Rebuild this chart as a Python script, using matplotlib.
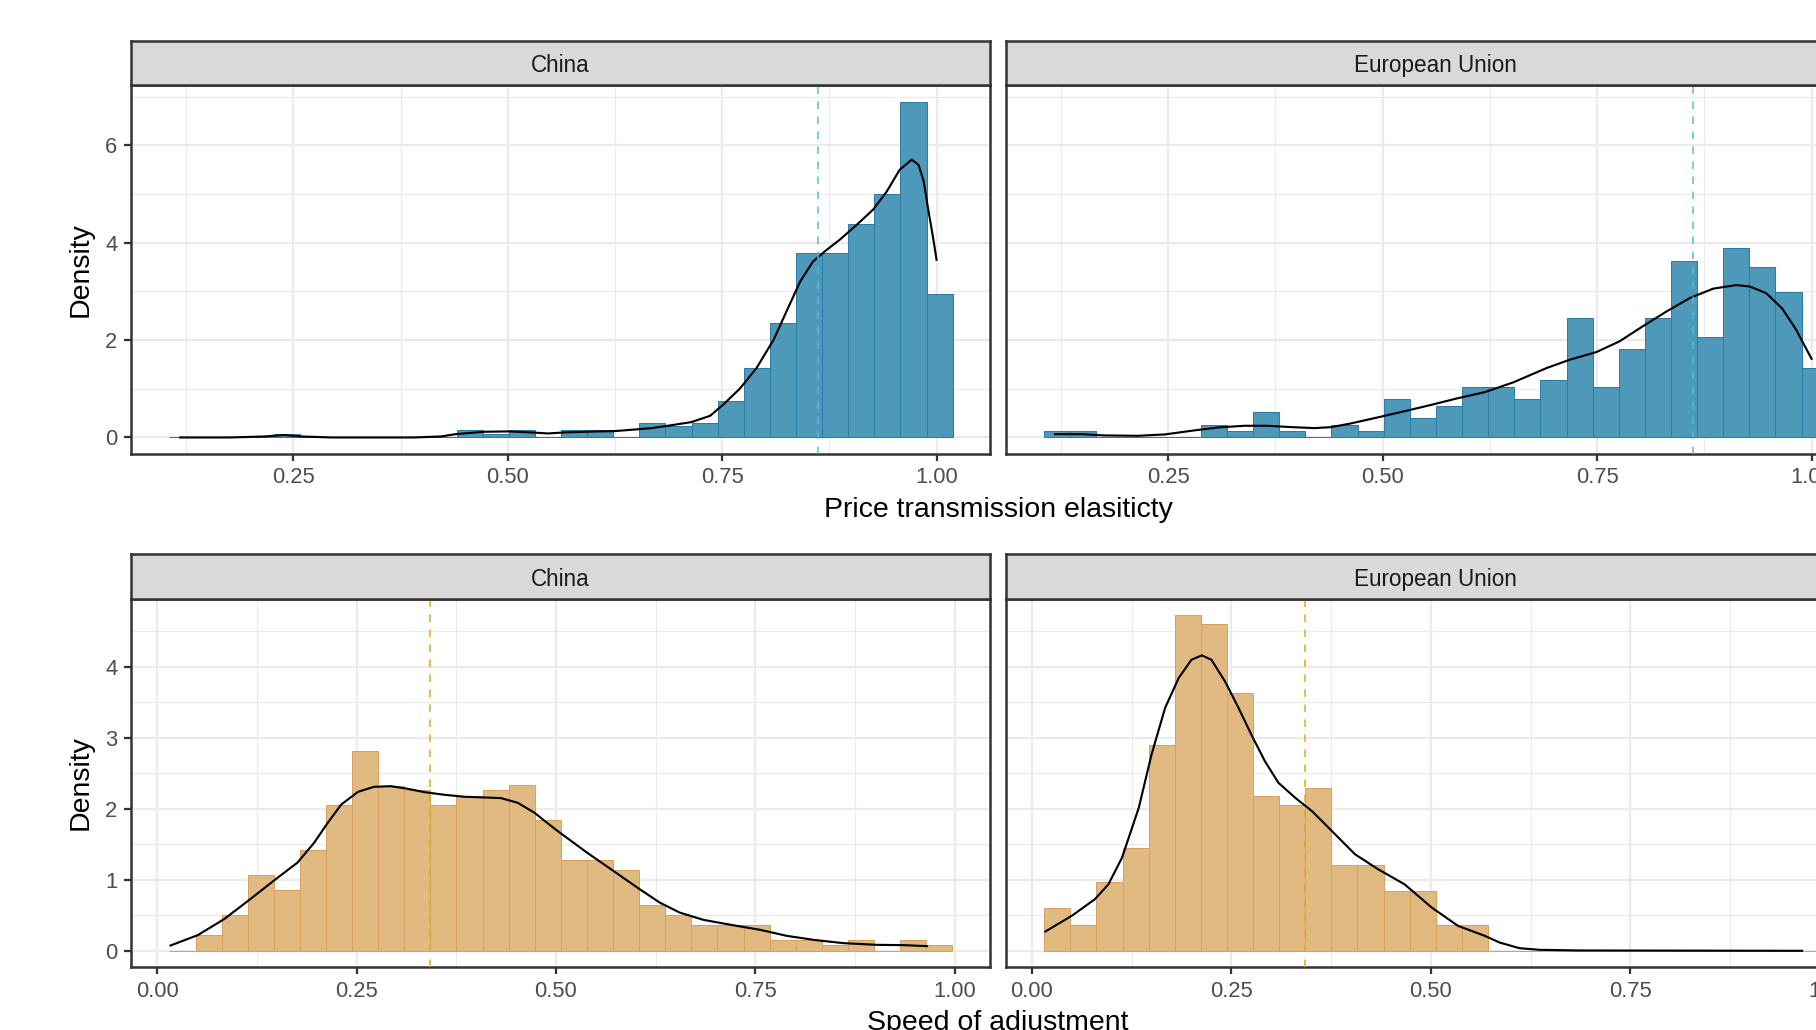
import numpy as np
import matplotlib
matplotlib.use("Agg")
import matplotlib.pyplot as plt

plt.rcParams['font.family'] = ['Liberation Sans', 'DejaVu Sans']

# ---- data ----
regions = ["China", "European Union"]

# price transmission elasticity histograms (density per bin)
pte_start = 0.1053
pte_binwidth = 0.03045
china_pte = [0, 0, 0, 0, 0.08, 0, 0, 0, 0, 0, 0, 0.15, 0.074, 0.15, 0, 0.15,
             0.15, 0, 0.295, 0.226, 0.295, 0.753, 1.432, 2.356, 3.795, 3.795,
             4.39, 5.007, 6.897, 2.952]
eu_pte = [0.13, 0.13, 0, 0, 0, 0, 0.26, 0.13, 0.52, 0.13, 0, 0.26, 0.13, 0.78,
          0.39, 0.65, 1.04, 1.04, 0.78, 1.17, 2.46, 1.04, 1.81, 2.46, 3.63,
          2.07, 3.89, 3.50, 2.98, 1.43]

# speed of adjustment histograms (density per bin)
soa_start = 0.0156
soa_binwidth = 0.0327
china_soa = [0, 0.22, 0.50, 1.063, 0.852, 1.414, 2.046, 2.818, 2.317, 2.257,
             2.046, 2.18, 2.257, 2.327, 1.835, 1.273, 1.273, 1.133, 0.64, 0.50,
             0.36, 0.36, 0.36, 0.15, 0.15, 0.08, 0.15, 0, 0.15, 0.08]
eu_soa = [0.609, 0.37, 0.974, 1.451, 2.898, 4.724, 4.597, 3.628, 2.182, 2.055,
          2.294, 1.213, 1.213, 0.847, 0.847, 0.37, 0.37, 0, 0, 0, 0, 0, 0, 0,
          0, 0, 0, 0, 0, 0]

# density curves
china_pte_kx = [0.118, 0.177, 0.216, 0.239, 0.259, 0.294, 0.391, 0.422, 0.440,
                0.473, 0.502, 0.527, 0.547, 0.566, 0.605, 0.624, 0.644, 0.667,
                0.684, 0.714, 0.736, 0.751, 0.771, 0.790, 0.810, 0.825, 0.841,
                0.856, 0.872, 0.887, 0.907, 0.926, 0.942, 0.957, 0.971, 0.979,
                0.985, 0.990, 0.996, 1.000]
china_pte_ky = [0.0, 0.0, 0.02, 0.05, 0.02, 0.0, 0.0, 0.02, 0.07, 0.117, 0.124,
                0.103, 0.082, 0.103, 0.124, 0.13, 0.157, 0.19, 0.233, 0.315,
                0.445, 0.671, 1.01, 1.425, 2.007, 2.59, 3.205, 3.616, 3.856,
                4.06, 4.37, 4.68, 5.055, 5.5, 5.705, 5.6, 5.26, 4.71, 4.096,
                3.65]
eu_pte_kx = [0.118, 0.149, 0.176, 0.215, 0.246, 0.277, 0.308, 0.339, 0.366,
             0.394, 0.421, 0.440, 0.463, 0.494, 0.526, 0.557, 0.588, 0.619,
             0.652, 0.691, 0.718, 0.749, 0.776, 0.803, 0.831, 0.858, 0.885,
             0.912, 0.928, 0.947, 0.966, 0.982, 1.000]
eu_pte_ky = [0.068, 0.068, 0.041, 0.034, 0.062, 0.137, 0.205, 0.24, 0.24,
             0.212, 0.192, 0.212, 0.288, 0.411, 0.541, 0.671, 0.808, 0.93,
             1.13, 1.425, 1.596, 1.753, 1.973, 2.281, 2.589, 2.863, 3.055,
             3.13, 3.10, 2.966, 2.644, 2.212, 1.616]
china_soa_kx = [0.017, 0.051, 0.084, 0.114, 0.147, 0.176, 0.197, 0.214, 0.231,
                0.252, 0.272, 0.293, 0.314, 0.335, 0.360, 0.385, 0.410, 0.431,
                0.452, 0.473, 0.494, 0.506, 0.539, 0.572, 0.605, 0.630, 0.655,
                0.685, 0.722, 0.756, 0.789, 0.823, 0.860, 0.902, 0.935, 0.965]
china_soa_ky = [0.075, 0.22, 0.445, 0.702, 0.993, 1.241, 1.522, 1.802, 2.06,
                2.238, 2.308, 2.317, 2.28, 2.233, 2.196, 2.168, 2.158, 2.149,
                2.083, 1.943, 1.756, 1.653, 1.381, 1.124, 0.866, 0.679, 0.538,
                0.435, 0.36, 0.295, 0.211, 0.154, 0.108, 0.084, 0.08, 0.066]
eu_soa_kx = [0.017, 0.050, 0.079, 0.096, 0.113, 0.134, 0.150, 0.167, 0.184,
             0.200, 0.213, 0.225, 0.242, 0.259, 0.276, 0.292, 0.309, 0.330,
             0.351, 0.376, 0.405, 0.434, 0.467, 0.501, 0.534, 0.5675, 0.586,
             0.611, 0.636, 0.686, 0.965]
eu_soa_ky = [0.272, 0.492, 0.726, 0.936, 1.311, 2.013, 2.762, 3.418, 3.839,
             4.096, 4.157, 4.096, 3.792, 3.418, 3.02, 2.669, 2.364, 2.154,
             1.966, 1.685, 1.358, 1.147, 0.936, 0.609, 0.351, 0.211, 0.117,
             0.037, 0.014, 0.005, 0.0]

pte_mean = 0.862
soa_mean = 0.342

pte_ticks = [0.25, 0.50, 0.75, 1.00]
soa_ticks = [0.00, 0.25, 0.50, 0.75, 1.00]

# ---- figure ----
W, H, DPI = 1816, 1030, 180
fig = plt.figure(figsize=(W / DPI, H / DPI), dpi=DPI)
fig.patch.set_facecolor('white')


def box(x0, y0, x1, y1):
    return [x0 / W, 1 - y1 / H, (x1 - x0) / W, (y1 - y0) / H]


def style_panel(ax, xlim, ylim, xticks, xminor, yticks, yminor, show_y):
    ax.set_xlim(*xlim)
    ax.set_ylim(*ylim)
    ax.set_xticks(xticks)
    ax.set_xticklabels([f"{t:.2f}" for t in xticks])
    ax.set_xticks(xminor, minor=True)
    ax.set_yticks(yticks)
    ax.set_yticklabels([str(t) for t in yticks])
    ax.set_yticks(yminor, minor=True)
    ax.grid(True, which='major', color='#EBEBEB', lw=0.9)
    ax.grid(True, which='minor', color='#EBEBEB', lw=0.45)
    ax.set_axisbelow(True)
    for s in ax.spines.values():
        s.set_color('#333333')
        s.set_linewidth(1.0)
    ax.tick_params(which='major', length=2.75, width=0.9, color='#333333',
                   labelcolor='#4D4D4D', labelsize=8.8, pad=2.6)
    ax.tick_params(which='minor', length=0)
    if not show_y:
        ax.tick_params(axis='y', which='major', length=0, labelleft=False)


def strip(rect, label):
    s = fig.add_axes(rect)
    s.set_facecolor('#D9D9D9')
    s.set_xticks([])
    s.set_yticks([])
    for sp in s.spines.values():
        sp.set_color('#333333')
        sp.set_linewidth(1.0)
    s.text(0.5, 0.44, label, ha='center', va='center', fontsize=9.0,
           color='#1A1A1A', transform=s.transAxes)


blue_fill, blue_edge = '#4E99BA', '#2A7BA5'
orange_fill, orange_edge = '#E1BA82', '#D9A15C'

cols = [(131, 990), (1005.8, 1865)]
rows = [dict(strip=(41, 85), panel=(85, 454), data=[china_pte, eu_pte],
             curves=[(china_pte_kx, china_pte_ky), (eu_pte_kx, eu_pte_ky)],
             start=pte_start, bw=pte_binwidth, fill=blue_fill, edge=blue_edge,
             vline=pte_mean, vcol='#56B9DD', xlim=(0.0606, 1.0623),
             ylim=(-0.34, 7.24), xticks=pte_ticks,
             xminor=[0.125, 0.375, 0.625, 0.875], yticks=[0, 2, 4, 6],
             yminor=[1, 3, 5, 7]),
        dict(strip=(554, 598.7), panel=(598.7, 967.3), data=[china_soa, eu_soa],
             curves=[(china_soa_kx, china_soa_ky), (eu_soa_kx, eu_soa_ky)],
             start=soa_start, bw=soa_binwidth, fill=orange_fill,
             edge=orange_edge, vline=soa_mean, vcol='#E8A317',
             xlim=(-0.0326, 1.0439), ylim=(-0.232, 4.955), xticks=soa_ticks,
             xminor=[0.125, 0.375, 0.625, 0.875], yticks=[0, 1, 2, 3, 4],
             yminor=[0.5, 1.5, 2.5, 3.5, 4.5])]

for r in rows:
    for j, (x0, x1) in enumerate(cols):
        ax = fig.add_axes(box(x0, r['panel'][0], x1, r['panel'][1]))
        heights = r['data'][j]
        edges = r['start'] + r['bw'] * np.arange(len(heights))
        ax.bar(edges, heights, width=r['bw'], align='edge', color=r['fill'],
               edgecolor=r['edge'], linewidth=0.4, zorder=2)
        kx, ky = r['curves'][j]
        ax.plot(kx, ky, color='black', lw=0.85, zorder=3,
                solid_joinstyle='round')
        ax.axvline(r['vline'], color=r['vcol'], lw=0.6, ls=(0, (5, 5)),
                   zorder=4)
        style_panel(ax, r['xlim'], r['ylim'], r['xticks'], r['xminor'],
                    r['yticks'], r['yminor'], show_y=(j == 0))
        strip(box(x0, r['strip'][0], x1, r['strip'][1]), regions[j])

# axis titles
fig.text(81 / W, 1 - 269.5 / H, "Density", rotation=90, ha='center',
         va='center', fontsize=11.4)
fig.text(81 / W, 1 - 783 / H, "Density", rotation=90, ha='center',
         va='center', fontsize=11.4)
fig.text(998 / W, 1 - 517 / H, "Price transmission elasiticty", ha='center',
         va='baseline', fontsize=11.4)
fig.text(998 / W, 1 - 1030 / H, "Speed of adjustment", ha='center',
         va='baseline', fontsize=11.4)

fig.savefig("out.png", dpi=DPI)
